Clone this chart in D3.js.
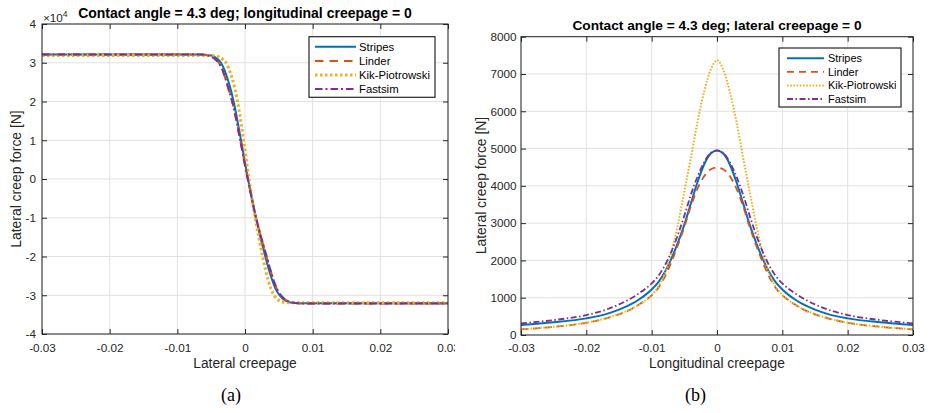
<!DOCTYPE html>
<html><head><meta charset="utf-8">
<script src="https://cdn.jsdelivr.net/npm/d3@7/dist/d3.min.js"></script>
<style>
html,body{margin:0;padding:0;background:#fff;}
svg{display:block;}
</style></head>
<body>
<script>
// ---------- DATA ----------
const xTicks = [-0.03, -0.02, -0.01, 0, 0.01, 0.02, 0.03];
const yTicksA = [-40000, -30000, -20000, -10000, 0, 10000, 20000, 30000, 40000];
const yTicksB = [0, 1000, 2000, 3000, 4000, 5000, 6000, 7000, 8000];
const seriesNames = ["Stripes", "Linder", "Kik-Piotrowski", "Fastsim"];

// (a) lateral creepage vs lateral creep force [N]
const aStripes = [[-0.03,32100],[-0.007,32100],[-0.006,32090],[-0.0055,32030],[-0.005,31850],[-0.0045,31500],[-0.004,30900],[-0.00355,30000],[-0.0031,28400],[-0.0026,26000],[-0.0021,23000],[-0.00168,20000],[-0.00059,10000],[0.00045,0],[0.0016,-10000],[0.003,-20000],[0.0035,-23200],[0.004,-26000],[0.0045,-28300],[0.0051,-30000],[0.0055,-30750],[0.006,-31400],[0.0065,-31750],[0.007,-31950],[0.0075,-32030],[0.008,-32050],[0.03,-32050]];
const aLinder = [[-0.03,32100],[-0.0075,32100],[-0.0065,32080],[-0.0059,32020],[-0.0054,31830],[-0.0049,31480],[-0.0044,30880],[-0.00388,30000],[-0.0034,28400],[-0.0029,26000],[-0.0024,23000],[-0.00188,20000],[-0.0007,10000],[0.0004,0],[0.00163,-10000],[0.00318,-20000],[0.0037,-23200],[0.0042,-26000],[0.0047,-28300],[0.0053,-30000],[0.0057,-30750],[0.0062,-31400],[0.0067,-31750],[0.0072,-31950],[0.0078,-32060],[0.0085,-32100],[0.03,-32100]];
const aKik = [[-0.03,31900],[-0.0056,31900],[-0.0049,31880],[-0.0043,31750],[-0.0038,31450],[-0.0033,30900],[-0.0028,30000],[-0.0024,28500],[-0.0019,26000],[-0.0015,23300],[-0.0011,20000],[-0.0002,10000],[0.0006,0],[0.0015,-10000],[0.0026,-20000],[0.003,-23200],[0.0034,-26000],[0.0038,-28200],[0.0043,-30000],[0.0047,-30900],[0.0052,-31500],[0.0057,-31800],[0.0062,-31930],[0.007,-31950],[0.03,-31950]];
const aFastsim = [[-0.03,32150],[-0.0075,32150],[-0.0065,32140],[-0.0059,32050],[-0.0054,31850],[-0.0049,31500],[-0.0044,30900],[-0.0039,30000],[-0.0034,28400],[-0.0029,26000],[-0.0024,23000],[-0.0019,20000],[-0.0007,10000],[0.0004,0],[0.00165,-10000],[0.0032,-20000],[0.0037,-23200],[0.0042,-26000],[0.0047,-28300],[0.0053,-30000],[0.0057,-30750],[0.0062,-31400],[0.0067,-31750],[0.0072,-31950],[0.0078,-32060],[0.0085,-32100],[0.03,-32100]];

// (b) longitudinal creepage vs lateral creep force [N]
const bX = [-0.03,-0.025,-0.02,-0.017,-0.015,-0.013,-0.012,-0.011,-0.01,-0.009,-0.008,-0.007,-0.006,-0.005,-0.004,-0.003,-0.002,-0.001,0,0.001,0.002,0.003,0.004,0.005,0.006,0.007,0.008,0.009,0.01,0.011,0.012,0.013,0.015,0.017,0.02,0.025,0.03];
const bStripes = [270,340,446,560,680,840,945,1070,1222,1410,1680,2040,2470,2960,3530,4090,4560,4860,4950,4860,4560,4090,3530,2960,2470,2040,1680,1410,1222,1070,945,840,680,560,446,340,270];
const bLinder = [150,218,328,445,555,705,810,925,1065,1260,1560,1950,2400,2900,3450,3920,4250,4440,4490,4440,4250,3920,3450,2900,2400,1950,1560,1260,1065,925,810,705,555,445,328,218,150];
const bKik = [152,220,330,450,560,710,810,925,1071,1290,1640,2200,2950,3850,4750,5700,6500,7100,7370,7100,6500,5700,4750,3850,2950,2200,1640,1290,1071,925,810,710,560,450,330,220,152];
const bFastsim = [313,400,535,680,820,1000,1110,1235,1383,1580,1860,2230,2680,3200,3760,4240,4620,4880,4950,4880,4620,4240,3760,3200,2680,2230,1860,1580,1383,1235,1110,1000,820,680,535,400,313];

// ---------- DRAW ----------
const W = 933, H = 413;
const ink = "#262626";
const sans = '"Liberation Sans", Arial, Helvetica, sans-serif';
const serif = '"Liberation Serif", "DejaVu Serif", "Times New Roman", serif';
const colors = ["#0072BD", "#D95319", "#EDB120", "#7E2F8E"];

const svg = d3.select("body").append("svg").attr("width", W).attr("height", H)
  .style("font-family", sans);
svg.append("defs").append("clipPath").attr("id", "clipA")
  .append("rect").attr("x", 0).attr("y", 0).attr("width", 455).attr("height", H);

function drawPanel(g, o) {
  const x = d3.scaleLinear().domain([-0.03, 0.03]).range([o.l, o.r]);
  const y = d3.scaleLinear().domain(o.yDomain).range([o.b, o.t]);

  // grid
  g.append("g").selectAll("line").data(xTicks).join("line")
    .attr("x1", d => x(d)).attr("x2", d => x(d)).attr("y1", o.t).attr("y2", o.b)
    .attr("stroke", "#e1e1e1").attr("stroke-width", 1);
  g.append("g").selectAll("line").data(o.yTicks).join("line")
    .attr("x1", o.l).attr("x2", o.r).attr("y1", d => y(d)).attr("y2", d => y(d))
    .attr("stroke", "#e1e1e1").attr("stroke-width", 1);

  // series
  const line = d3.line().x(d => x(d[0])).y(d => y(d[1])).curve(d3.curveMonotoneX);
  o.series.forEach((s, i) => {
    g.append("path").datum(s).attr("d", line).attr("fill", "none")
      .attr("stroke", colors[i]).attr("stroke-width", o.styles[i].w)
      .attr("stroke-dasharray", o.styles[i].dash);
  });

  // axes (ticks inward on all four sides)
  const fmtX = d => d === 0 ? "0" : d.toFixed(2);
  const axB = g.append("g").attr("transform", `translate(0,${o.b})`)
    .call(d3.axisBottom(x).tickValues(xTicks).tickSize(-5).tickSizeOuter(0).tickPadding(o.xPad).tickFormat(fmtX));
  const axT = g.append("g").attr("transform", `translate(0,${o.t})`)
    .call(d3.axisTop(x).tickValues(xTicks).tickSize(-5).tickSizeOuter(0).tickFormat(""));
  const axL = g.append("g").attr("transform", `translate(${o.l},0)`)
    .call(d3.axisLeft(y).tickValues(o.yTicks).tickSize(-5).tickSizeOuter(0).tickPadding(o.yPad).tickFormat(o.yFmt));
  const axR = g.append("g").attr("transform", `translate(${o.r},0)`)
    .call(d3.axisRight(y).tickValues(o.yTicks).tickSize(-5).tickSizeOuter(0).tickFormat(""));
  [axB, axT, axL, axR].forEach(a => {
    a.select(".domain").remove();
    a.selectAll(".tick line").attr("stroke", ink).attr("stroke-width", 1);
    a.selectAll("text").attr("fill", ink).attr("font-size", 11.7).attr("font-family", sans);
  });
  g.append("rect").attr("x", o.l).attr("y", o.t).attr("width", o.r - o.l).attr("height", o.b - o.t)
    .attr("fill", "none").attr("stroke", ink).attr("stroke-width", 1);

  // title & labels
  g.append("text").attr("x", o.titleX).attr("y", o.titleY).attr("text-anchor", "middle")
    .attr("font-size", o.titleSize).attr("font-weight", "bold").attr("fill", "#000").text(o.title);
  g.append("text").attr("x", (o.l + o.r) / 2).attr("y", 368).attr("text-anchor", "middle")
    .attr("font-size", 13.8).attr("fill", ink).text(o.xLabel);
  g.append("text").attr("transform", `translate(${o.yLabelX},${o.yLabelY}) rotate(-90)`)
    .attr("text-anchor", "middle").attr("font-size", 13.9).attr("fill", ink).text(o.yLabel);
  g.append("text").attr("x", o.capX).attr("y", 401).attr("text-anchor", "middle")
    .attr("font-size", 18).style("font-family", serif)
    .attr("fill", "#000").text(o.caption);

  // legend
  const lg = o.legend;
  g.append("rect").attr("x", lg.x).attr("y", lg.y).attr("width", lg.w).attr("height", lg.h)
    .attr("fill", "#fff").attr("stroke", ink).attr("stroke-width", 1.2);
  seriesNames.forEach((n, i) => {
    const yy = lg.y0 + i * lg.dy;
    g.append("line").attr("x1", lg.lx1).attr("x2", lg.lx2).attr("y1", yy).attr("y2", yy)
      .attr("stroke", colors[i]).attr("stroke-width", o.styles[i].w)
      .attr("stroke-dasharray", o.styles[i].dash);
    g.append("text").attr("x", lg.tx).attr("y", yy).attr("dy", "0.35em")
      .attr("font-size", lg.fs).attr("fill", "#000").text(n);
  });
  return {x, y};
}

// panel (a)
const gA = svg.append("g").attr("clip-path", "url(#clipA)");
drawPanel(gA, {
  l: 42, r: 448, t: 24, b: 334,
  yDomain: [-40000, 40000], yTicks: yTicksA, yFmt: d => String(d / 10000),
  xPad: 9.5, yPad: 6,
  series: [aStripes, aLinder, aKik, aFastsim],
  styles: [{w: 2, dash: null}, {w: 2, dash: "8.5,6"}, {w: 3, dash: "2.5,2.5"}, {w: 2, dash: "7.5,3,2,3"}],
  title: "Contact angle = 4.3 deg; longitudinal creepage = 0", titleX: 245, titleY: 18, titleSize: 14,
  xLabel: "Lateral creepage", yLabel: "Lateral creep force [N]", yLabelX: 21, yLabelY: 179,
  caption: "(a)", capX: 231,
  legend: {x: 309, y: 36.7, w: 126, h: 60.6, y0: 46.8, dy: 14.1, lx1: 315, lx2: 356, tx: 359, fs: 11.3}
});
// ×10^4 exponent label
const ex = gA.append("text").attr("x", 43).attr("y", 21.5).attr("font-size", 11.7).attr("fill", ink);
ex.append("tspan").text("×10");
ex.append("tspan").attr("font-size", 8.5).attr("dy", -5).text("4");

// panel (b)
const gB = svg.append("g");
drawPanel(gB, {
  l: 521, r: 913, t: 36.7, b: 335,
  yDomain: [0, 8000], yTicks: yTicksB, yFmt: d => String(d),
  xPad: 8.5, yPad: 4.5,
  series: [bStripes, bLinder, bKik, bFastsim].map(arr => arr.map((v, i) => [bX[i], v])),
  styles: [{w: 2, dash: null}, {w: 1.8, dash: "7,5"}, {w: 2, dash: "1.6,1.6"}, {w: 1.8, dash: "6,2.5,1.5,2.5"}],
  title: "Contact angle = 4.3 deg; lateral creepage = 0", titleX: 717, titleY: 30, titleSize: 13.7,
  xLabel: "Longitudinal creepage", yLabel: "Lateral creep force [N]", yLabelX: 486, yLabelY: 185.5,
  caption: "(b)", capX: 695.5,
  legend: {x: 779, y: 48, w: 122, h: 59, y0: 58.2, dy: 13.6, lx1: 787, lx2: 824, tx: 828, fs: 10.9}
});
</script>
</body></html>
